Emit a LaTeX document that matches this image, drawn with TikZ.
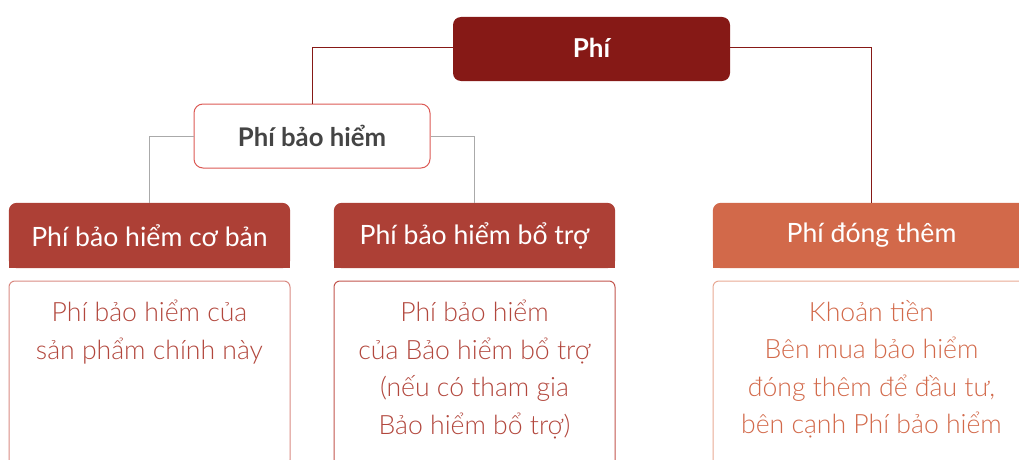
\documentclass[tikz,border=0pt]{standalone}
\usepackage{fontspec}
\setmainfont{Lato}
\newfontfamily\lightfont{Lato Light}
\usetikzlibrary{backgrounds}
\definecolor{phired}{HTML}{861916}
\definecolor{hdred}{HTML}{AD4036}
\definecolor{hdorange}{HTML}{D2694A}
\definecolor{pbhborder}{HTML}{DC5A55}
\definecolor{txtgray}{HTML}{444444}
\definecolor{linegray}{HTML}{AAAAAA}
\definecolor{bodyA}{HTML}{D98A82}
\definecolor{bodyB}{HTML}{C2554D}
\definecolor{bodyC}{HTML}{E8A994}
\definecolor{txtA}{HTML}{B2473D}
\definecolor{txtC}{HTML}{D2694A}
\tikzset{
  hdbox/.style={minimum width=281pt, minimum height=65pt, inner sep=0pt, text=white, font=\fontsize{26.6}{30}\selectfont},
  bodytext/.style={anchor=north, align=center, inner sep=0pt, font=\lightfont\fontsize{26.6}{37.5}\selectfont},
  redline/.style={draw=phired, line width=1pt},
  grayline/.style={draw=linegray, line width=1pt}
}
\begin{document}
\begin{tikzpicture}[x=1pt,y=-1pt]
\useasboundingbox (0,0) rectangle (1019,460);
\clip (0,0) rectangle (1019,460);
% top node
\fill[phired, rounded corners=8pt] (453,17) rectangle (730,81);
\node[text=white, font=\bfseries\fontsize{26}{30}\selectfont, minimum width=277pt, minimum height=64pt, inner sep=0pt] (phi) at (591.5,48) {Phí};
% Phí bảo hiểm
\node[draw=pbhborder, line width=1pt, rounded corners=9pt, fill=white, minimum width=236pt, minimum height=64pt, inner sep=0pt, text=txtgray, font=\bfseries\fontsize{25.7}{30}\selectfont] (pbh) at (312,136) {Phí bảo hiểm};
% headers
\node[hdbox] (h1) at (149.5,235.5) {Phí bảo hiểm cơ bản};
\node[hdbox] (h2) at (474.5,235.5) {Phí bảo hiểm bổ trợ};
\node[hdbox, minimum width=317pt] (h3) at (871.5,235.5) {Phí đóng thêm};
\begin{scope}[on background layer]
  \fill[hdred, rounded corners=8pt] (h1.south west) rectangle (h1.north east);
  \fill[hdred] (h1.west) rectangle (h1.south east);
  \fill[hdred, rounded corners=8pt] (h2.south west) rectangle (h2.north east);
  \fill[hdred] (h2.west) rectangle (h2.south east);
  \fill[hdorange, rounded corners=8pt] (h3.south west) rectangle (h3.north east);
  \fill[hdorange] (h3.west) rectangle (h3.south east);
\end{scope}
% body boxes
\draw[bodyA, line width=1pt, rounded corners=6pt] (9,281) rectangle (290,466);
\draw[bodyB, line width=1pt, rounded corners=6pt] (334,281) rectangle (615,466);
\draw[bodyC, line width=1pt, rounded corners=6pt] (713,281) rectangle (1030,466);
\node[bodytext, text=txtA] (b1) at (149.5,300) {Phí bảo hiểm của\\sản phẩm chính này};
\node[bodytext, text=txtA] (b2) at (474.5,300) {Phí bảo hiểm\\của Bảo hiểm bổ trợ\\(nếu có tham gia\\Bảo hiểm bổ trợ)};
\node[bodytext, text=txtC] (b3) at (871.5,300) {Khoản tiền\\Bên mua bảo hiểm\\đóng thêm để đầu tư,\\bên cạnh Phí bảo hiểm};
% connectors
\draw[redline] (phi.west) -| (pbh.north);
\draw[redline] (phi.east) -| (h3.north);
\draw[grayline] (pbh.west) -| (h1.north);
\draw[grayline] (pbh.east) -| (h2.north);
\end{tikzpicture}
\end{document}
